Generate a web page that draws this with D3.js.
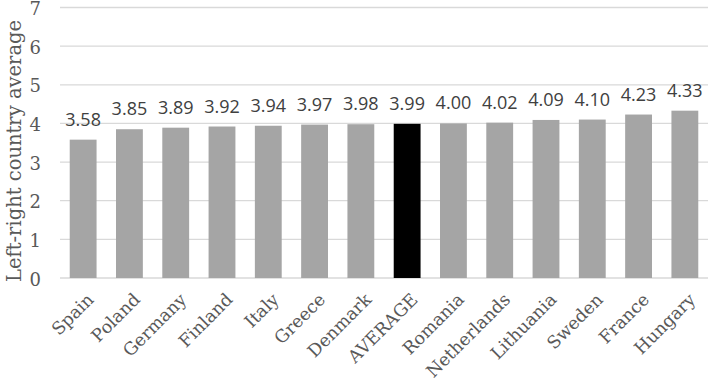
<!DOCTYPE html>
<html>
<head>
<meta charset="utf-8">
<script src="https://cdn.jsdelivr.net/npm/d3@7"></script>
<style>
  body { margin: 0; background: #fff; }
</style>
</head>
<body>
<div id="chart"></div>
<script>
// --- Data ---
const countries = ["Spain", "Poland", "Germany", "Finland", "Italy", "Greece", "Denmark",
  "AVERAGE", "Romania", "Netherlands", "Lithuania", "Sweden", "France", "Hungary"];
const averages = [3.58, 3.85, 3.89, 3.92, 3.94, 3.97, 3.98, 3.99, 4.00, 4.02, 4.09, 4.10, 4.23, 4.33];
const yTicks = [0, 1, 2, 3, 4, 5, 6, 7];
const yTitle = "Left-right country average";

const data = countries.map((c, i) => ({ name: c, value: averages[i] }));

// --- Setup chart dimensions ---
const width = 710, height = 385;
const margin = { top: 7.5, right: 2, bottom: 107, left: 60 };

const svg = d3.select("#chart")
  .append("svg")
  .attr("width", width)
  .attr("height", height);

// --- Scales ---
const x = d3.scaleBand()
  .domain(countries)
  .range([margin.left, width - margin.right])
  .paddingInner(0.42)
  .paddingOuter(0.21);

const y = d3.scaleLinear()
  .domain([0, 7])
  .range([height - margin.bottom, margin.top]);

// --- Gridlines ---
svg.append("g")
  .selectAll("line")
  .data(yTicks)
  .enter()
  .append("line")
  .attr("x1", margin.left)
  .attr("x2", width - margin.right)
  .attr("y1", d => y(d))
  .attr("y2", d => y(d))
  .attr("stroke", "#d9d9d9")
  .attr("stroke-width", 1.3);

// --- Y axis labels ---
const yAxis = svg.append("g")
  .attr("transform", `translate(${margin.left - 19},0)`)
  .call(d3.axisLeft(y).tickValues(yTicks).tickFormat(d3.format("d")).tickSize(0).tickPadding(0));
yAxis.select(".domain").remove();
yAxis.selectAll("text")
  .attr("dy", "0.4em")
  .style("font-family", "'DejaVu Serif', serif")
  .style("font-size", "18px")
  .style("fill", "#595959");

// --- Y title ---
svg.append("text")
  .attr("transform", `translate(21,151) rotate(-90)`)
  .attr("text-anchor", "middle")
  .style("font-family", "'DejaVu Serif', serif")
  .style("font-size", "19.5px")
  .style("fill", "#595959")
  .text(yTitle);

// --- Bars ---
svg.selectAll(".bar")
  .data(data)
  .enter()
  .append("rect")
  .attr("class", "bar")
  .attr("x", d => x(d.name))
  .attr("width", x.bandwidth())
  .attr("y", d => y(d.value))
  .attr("height", d => y(0) - y(d.value))
  .attr("fill", d => d.name === "AVERAGE" ? "#000000" : "#a5a5a5");

// --- Value labels ---
svg.selectAll(".val")
  .data(data)
  .enter()
  .append("text")
  .attr("class", "val")
  .attr("x", d => x(d.name) + x.bandwidth() / 2)
  .attr("y", d => y(d.value) - 14)
  .attr("text-anchor", "middle")
  .style("font-family", "'Open Sans', sans-serif")
  .style("font-size", "18px")
  .style("fill", "#404040")
  .text(d => d.value.toFixed(2));

// --- X labels (rotated) ---
svg.selectAll(".cat")
  .data(data)
  .enter()
  .append("text")
  .attr("class", "cat")
  .attr("transform", d => `translate(${x(d.name) + x.bandwidth() / 2 + 3},${y(0) + 14}) rotate(-45)`)
  .attr("text-anchor", "end")
  .attr("dy", "0.7em")
  .style("font-family", "'DejaVu Serif', serif")
  .style("font-size", "17.5px")
  .style("fill", "#595959")
  .text(d => d.name);
</script>
</body>
</html>
